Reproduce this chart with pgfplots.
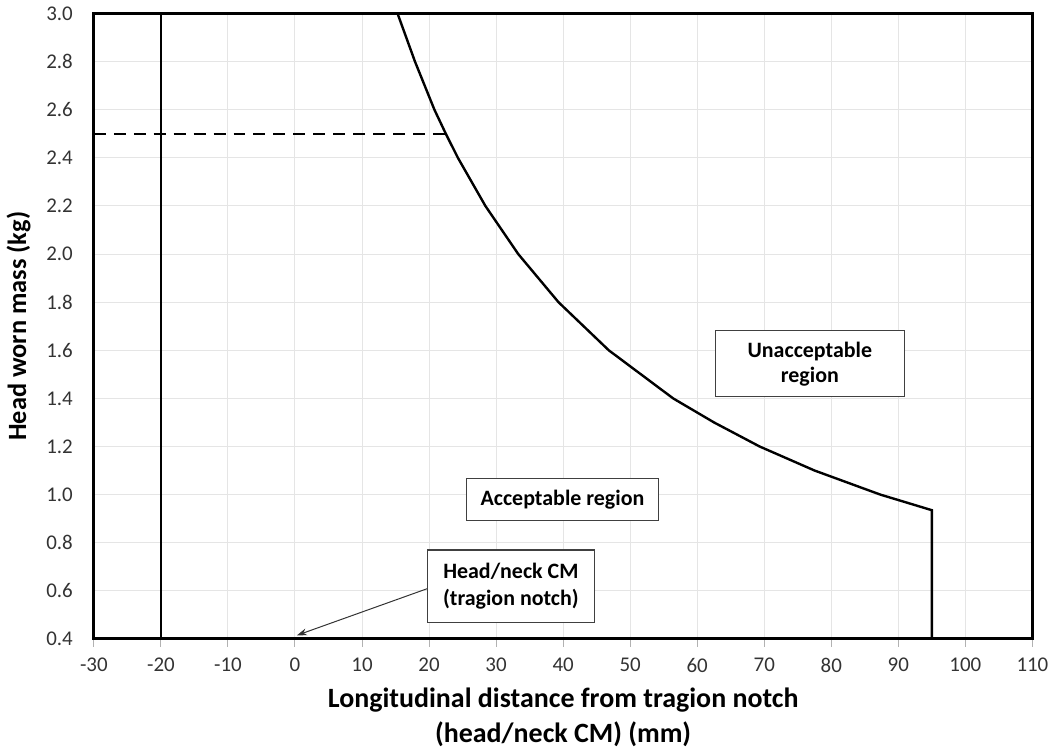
\documentclass[border=0pt]{standalone}
\usepackage{pgfplots}
\pgfplotsset{compat=1.18}
\usepackage{fontspec}
\setmainfont{Carlito}
\usetikzlibrary{arrows.meta}

\begin{document}
\begin{tikzpicture}
  \begin{axis}[
      scale only axis,
      width=470.5pt, height=313.5pt,
      xmin=-30, xmax=110, ymin=0.4, ymax=3.0,
      xtick distance=10, ytick distance=0.2,
      grid=major,
      major grid style={gray!20, line width=0.5pt},
      axis line style={line width=1.5pt},
      tick align=outside,
      xtick pos=bottom, ytick pos=left,
      major tick length=4pt,
      x tick style={gray!60, line width=0.5pt},
      y tick style={draw=none},
      tick label style={font=\fontsize{10.5}{12}\selectfont, text=black!80},
      /pgf/number format/assume math mode=true,
      y tick label style={xshift=-3pt, /pgf/number format/.cd, fixed, fixed zerofill, precision=1},
      x tick label style={yshift=-2pt},
      xlabel={Longitudinal distance from tragion notch\\(head/neck CM) (mm)},
      ylabel={Head worn mass (kg)},
      xlabel style={font=\bfseries\fontsize{14}{17.5}\selectfont, align=center, yshift=-1pt},
      ylabel style={font=\bfseries\fontsize{13.2}{15}\selectfont},
      ylabel shift=1pt,
      clip=false,
    ]
    % limit curve
    \addplot[black, line width=1.2pt] coordinates {
      (15.3,3.0) (17.9,2.8) (20.8,2.6) (22.5,2.5) (24.3,2.4) (28.4,2.2)
      (33.3,2.0) (39.3,1.8) (46.8,1.6) (56.4,1.4) (62.5,1.3) (69.3,1.2)
      (77.5,1.1) (87.3,1.0) (95,0.935) (95,0.4)
    };
    % head/neck reference line
    \addplot[black, line width=1.2pt] coordinates {(-20,0.4) (-20,3.0)};
    % 2.5 kg limit
    \addplot[black, line width=1.2pt, dash pattern=on 6pt off 4pt] coordinates {(-30,2.5) (22.5,2.5)};

    \draw[black!80, line width=0.5pt, -{Stealth[length=5pt,width=3.5pt]}]
      (axis cs:19.85,0.61) -- (axis cs:0.3,0.415);
    \node[draw=black!75, line width=0.6pt, fill=white, align=center,
          font=\bfseries\fontsize{11}{12.5}\selectfont, minimum width=95pt, minimum height=33pt]
      at (axis cs:76.8,1.544) {Unacceptable\\region};
    \node[draw=black!75, line width=0.6pt, fill=white,
          font=\bfseries\fontsize{11}{12.5}\selectfont, minimum width=96pt, minimum height=21pt]
      at (axis cs:39.9,0.979) {Acceptable region};
    \node[draw=black!75, line width=0.6pt, fill=white, align=center,
          font=\bfseries\fontsize{11}{13.5}\selectfont, minimum width=83.5pt, minimum height=36.5pt]
      at (axis cs:32.2,0.618) {Head/neck CM\\(tragion notch)};
  \end{axis}
\end{tikzpicture}
\end{document}
